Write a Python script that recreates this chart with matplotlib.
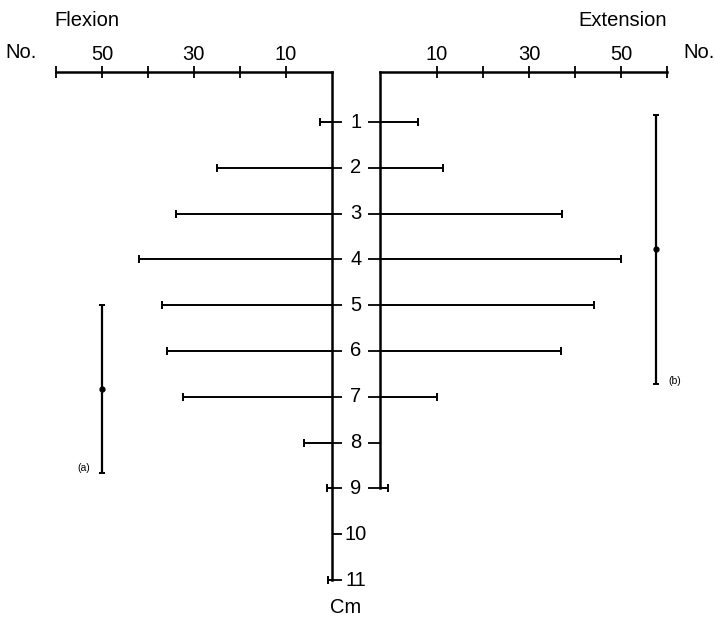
import numpy as np
import matplotlib
matplotlib.use("Agg")
import matplotlib.pyplot as plt

plt.rcParams['font.family'] = ['Liberation Sans', 'DejaVu Sans']

# data
rows = [1, 2, 3, 4, 5, 6, 7, 8, 9, 10, 11]
flexion = [2.5, 24.9, 33.9, 41.9, 36.9, 35.8, 32.4, 6.0, 1.0, np.nan, 0.8]
extension = [5.9, 11.3, 37.2, 50.0, 44.1, 37.0, 10.0, np.nan, -0.7]
ext_rows = rows[:9]
scale_ticks = [10, 20, 30, 40, 50, 60]
scale_labels = ['10', '', '30', '', '50', '']

# mean +/- range bars (a) and (b)
a_x, a_mean, a_half = 50, 6.83, 1.83
b_x, b_mean, b_half = 57.6, 3.78, 2.93

W, H = 715, 619
fig = plt.figure(figsize=(W / 100, H / 100), dpi=100)

top_px, bot_px = 72, 603
row1_px, row_step = 122, 45.8
r_top = 1 - (row1_px - top_px) / row_step
r_bot = 1 + (bot_px - row1_px) / row_step

def fig_rect(x0, x1):
    return [x0 / W, (H - bot_px) / H, (x1 - x0) / W, (bot_px - top_px) / H]

lw_axis = 1.8
lw_bar = 1.4
fs = 14.5

# ---- Flexion (left) ----
axl = fig.add_axes(fig_rect(56, 331.5))
axl.set_xlim(60, 0)
axl.set_ylim(r_bot, r_top)
for s in ['left', 'bottom']:
    axl.spines[s].set_visible(False)
axl.spines['top'].set_linewidth(lw_axis)
axl.spines['right'].set_linewidth(lw_axis)
axl.spines['right'].set_bounds(r_top, 11)
axl.xaxis.tick_top()
axl.set_xticks(scale_ticks)
axl.set_xticklabels(scale_labels)
axl.tick_params(axis='x', direction='inout', length=8, width=1.3, pad=2, labelsize=fs)
axl.yaxis.tick_right()
axl.set_yticks(rows)
axl.set_yticklabels([])
axl.tick_params(axis='y', direction='out', length=7.5, width=1.3)

fr = [r for r, v in zip(rows, flexion) if not np.isnan(v)]
fv = [v for v in flexion if not np.isnan(v)]
axl.hlines(fr, 0, fv, color='black', lw=lw_bar, clip_on=False)
axl.plot(fv, fr, '|', color='black', ms=5.5, mew=1.4, clip_on=False)

axl.errorbar(a_x, a_mean, yerr=a_half, fmt='o', color='black', ms=3.5,
             elinewidth=1.6, capsize=2.5, capthick=1.4)
axl.text(a_x + 2.5, a_mean + a_half - 0.1, '(a)', fontsize=7.5, ha='right', va='center')

for r in rows:
    axl.text(-5.3, r, str(r), fontsize=fs, ha='center', va='center', clip_on=False)
axl.text(-3.0, r_bot + 0.1, 'Cm', fontsize=fs, ha='center', va='center', clip_on=False)

# ---- Extension (right) ----
axr = fig.add_axes(fig_rect(380, 667))
axr.set_xlim(-2.4, 60)
axr.set_ylim(r_bot, r_top)
for s in ['right', 'bottom']:
    axr.spines[s].set_visible(False)
axr.spines['top'].set_linewidth(lw_axis)
axr.spines['left'].set_linewidth(lw_axis)
axr.spines['left'].set_bounds(r_top, 9)
axr.xaxis.tick_top()
axr.set_xticks(scale_ticks)
axr.set_xticklabels(scale_labels)
axr.tick_params(axis='x', direction='inout', length=8, width=1.3, pad=2, labelsize=fs)
axr.set_yticks(ext_rows)
axr.set_yticklabels([])
axr.tick_params(axis='y', direction='out', length=8.5, width=1.3)

er = [r for r, v in zip(ext_rows, extension) if not np.isnan(v)]
ev = [v for v in extension if not np.isnan(v)]
axr.hlines(er, -2.4, ev, color='black', lw=lw_bar, clip_on=False)
axr.plot(ev, er, '|', color='black', ms=5.5, mew=1.4, clip_on=False)

axr.errorbar(b_x, b_mean, yerr=b_half, fmt='o', color='black', ms=3.5,
             elinewidth=1.6, capsize=2.5, capthick=1.4)
axr.text(b_x + 2.6, b_mean + b_half - 0.05, '(b)', fontsize=7.5, ha='left', va='center')

# titles
fig.text(87 / W, 1 - 20 / H, 'Flexion', fontsize=fs, ha='center', va='center')
fig.text(623 / W, 1 - 20 / H, 'Extension', fontsize=fs, ha='center', va='center')
fig.text(21 / W, 1 - 52 / H, 'No.', fontsize=fs, ha='center', va='center')
fig.text(699 / W, 1 - 52 / H, 'No.', fontsize=fs, ha='center', va='center')

fig.savefig('out.png', dpi=100)
